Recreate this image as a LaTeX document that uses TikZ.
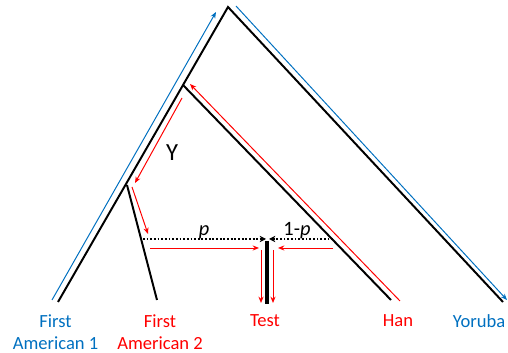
\documentclass[tikz,border=0pt]{standalone}
\usepackage{fontspec}
\setmainfont{Carlito}
\usetikzlibrary{arrows.meta}
\definecolor{popblue}{RGB}{0,112,192}
\definecolor{popred}{RGB}{255,0,0}

\begin{document}
\begin{tikzpicture}[x=0.025cm, y=-0.025cm, >=Stealth,
    font=\fontsize{13.2}{15.5}\selectfont,
    branch/.style={line width=1.4pt},
    flow/.style={-{Stealth[length=4.5pt, width=3.6pt]}, line width=0.7pt},
    admix/.style={-{Stealth[length=4.5pt, width=4.5pt]}, line width=1.3pt, dash pattern=on 1.3pt off 1.3pt},
    weight/.style={anchor=base, inner sep=0pt, font=\fontsize{14.5}{16}\selectfont},
    poplabel/.style={align=center, inner sep=0pt}]
    \useasboundingbox (0,0) rectangle (508,353);
    % tree nodes
    \coordinate (root) at (228,7);
    \coordinate (nHan) at (183,85);
    \coordinate (nAm) at (127,185);
    \coordinate (tAmA) at (58,302);
    \coordinate (tAmB) at (157,300);
    \coordinate (tHan) at (391,300);
    \coordinate (tYor) at (503,302);
    \coordinate (tTestTop) at (267,241);
    \coordinate (tTest) at (267,304);
    % tree branches
    \draw[branch] (tAmA) -- (root) -- (tYor);
    \draw[branch] (nHan) -- (tHan);
    \draw[branch] (nAm) -- (tAmB);
    \draw[line width=2.8pt] (tTestTop) -- (tTest);
    % blue paths
    \coordinate (bA0) at (52,300);
    \coordinate (bA1) at (216,12);
    \coordinate (bY0) at (236,6);
    \coordinate (bY1) at (507,300);
    \draw[flow, popblue] (bA0) -- (bA1);
    \draw[flow, popblue] (bY0) -- (bY1);
    % red paths
    \coordinate (rH0) at (400,301);
    \coordinate (rH1) at (190,84);
    \coordinate (rY0) at (182,98);
    \coordinate (rY1) at (135,183);
    \coordinate (rP0) at (132,187);
    \coordinate (rP1) at (148,234);
    \draw[flow, popred] (rH0) -- (rH1);
    \draw[flow, popred] (rY0) -- (rY1);
    \draw[flow, popred] (rP0) -- (rP1);
    % admixture edges
    \coordinate (dL) at (143,239);
    \coordinate (dR) at (333,239);
    \coordinate (dLtip) at (266,239);
    \coordinate (dRtip) at (269,239);
    \draw[admix] (dL) -- (dLtip);
    \draw[admix] (dR) -- (dRtip);
    \node[weight] (wL) at (204,236) {\textit{p}};
    \node[weight] (wR) at (297,236) {1-\textit{p}};
    % red paths into Test
    \coordinate (hL0) at (150,248);
    \coordinate (hL1) at (259,248);
    \coordinate (hR0) at (333,248);
    \coordinate (hR1) at (278,248);
    \coordinate (vL0) at (261,250);
    \coordinate (vL1) at (261,303);
    \coordinate (vR0) at (273,250);
    \coordinate (vR1) at (273,303);
    \draw[flow, popred] (hL0) -- (hL1);
    \draw[flow, popred] (hR0) -- (hR1);
    \draw[flow, popred] (vL0) -- (vL1);
    \draw[flow, popred] (vR0) -- (vR1);
    % labels
    \node[font=\fontsize{17.5}{20}\selectfont] (lY) at (172,153) {Y};
    \node[poplabel, popblue] (lAmA) at (55.5,332) {First\\American 1};
    \node[poplabel, popred] (lAmB) at (160,332) {First\\American 2};
    \node[poplabel, popred] (lTest) at (265,321) {Test};
    \node[poplabel, popred] (lHan) at (398,321) {Han};
    \node[poplabel, popblue] (lYor) at (479,321) {Yoruba};
\end{tikzpicture}
\end{document}
